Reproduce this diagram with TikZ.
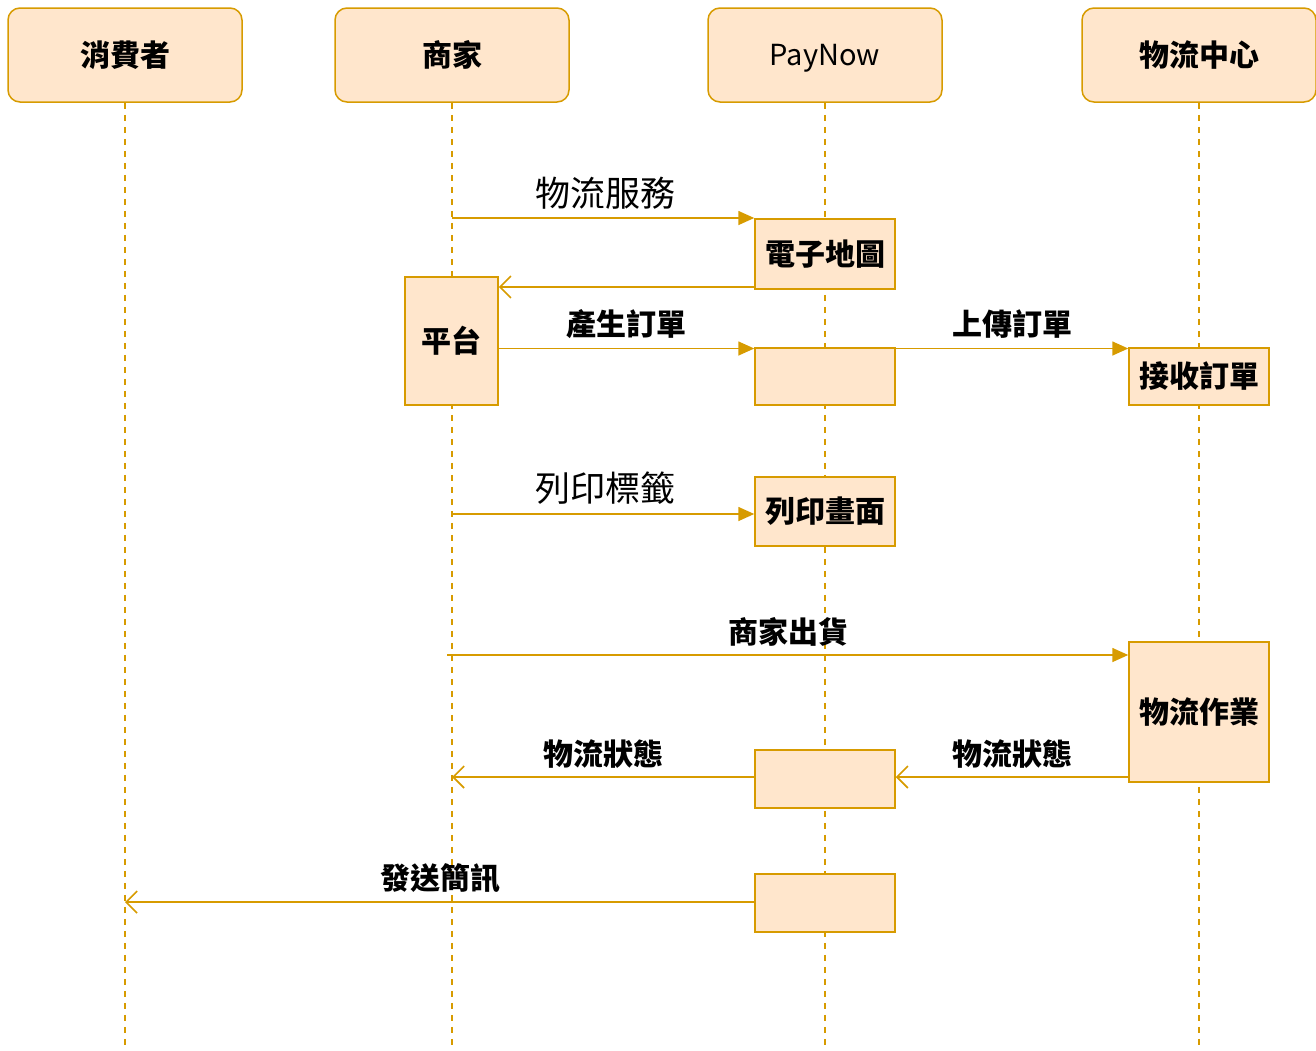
\documentclass[tikz,border=0pt]{standalone}
\usepackage{fontspec}
\setmainfont{Noto Sans CJK TC}
\usetikzlibrary{arrows.meta}
\definecolor{fillc}{HTML}{FFE6CC}
\definecolor{linec}{HTML}{D79B00}
\begin{document}
\begin{tikzpicture}[x=1pt,y=-1pt,
 head/.style={draw=linec, fill=fillc, line width=1.5pt, rounded corners=12pt, minimum width=234pt, minimum height=94pt, inner sep=0pt, font=\fontsize{30}{33}\selectfont\bfseries},
 act/.style={draw=linec, fill=fillc, line width=1.5pt, inner sep=0pt, font=\fontsize{30}{33}\selectfont\bfseries},
 life/.style={draw=linec, line width=1.2pt, dash pattern=on 6pt off 6pt},
 msg/.style={draw=linec, line width=1.6pt, -{Triangle[length=16pt,width=14pt]}},
 ret/.style={draw=linec, line width=1.6pt, -{Straight Barb[length=11pt,width=22pt]}},
 lb/.style={font=\fontsize{30}{33}\selectfont\bfseries, inner sep=0pt},
 lbr/.style={font=\fontsize{35}{38}\selectfont, inner sep=0pt}
]
\useasboundingbox (0,0) rectangle (1316,1050);
\coordinate (bot) at (0,1050);
% headers
\node[head] (h1) at (125,55) {消費者};
\node[head] (h2) at (452,55) {商家};
\node[head, font=\fontsize{29}{32}\selectfont] (h3) at (825,55) {\raisebox{-10.5pt}[0pt][0pt]{PayNow}};
\node[head] (h4) at (1199,55) {物流中心};
% lifelines
\draw[life] (h1.south) -- (h1.south |- bot);
\draw[life] (h2.south) -- (h2.south |- bot);
\draw[life] (h3.south) -- (h3.south |- bot);
\draw[life] (h4.south) -- (h4.south |- bot);
% activation boxes
\node[act, minimum width=140pt, minimum height=70pt] (a1) at (825,254) {電子地圖};
\node[act, minimum width=93pt, minimum height=128pt] (a2) at (451.5,341) {平台};
\node[act, minimum width=140pt, minimum height=57pt] (a3) at (825,376.5) {};
\node[act, minimum width=140pt, minimum height=57pt] (a4) at (1199,376.5) {接收訂單};
\node[act, minimum width=140pt, minimum height=69pt] (a5) at (825,511.5) {列印畫面};
\node[act, minimum width=140pt, minimum height=140pt] (a6) at (1199,712) {物流作業};
\node[act, minimum width=140pt, minimum height=58pt] (a7) at (825,779) {};
\node[act, minimum width=140pt, minimum height=58pt] (a8) at (825,903) {};
% coordinates
\coordinate (s1) at (452,218);
\coordinate (r1) at (0,287);
\coordinate (s3) at (0,348.5);
\coordinate (s5) at (452,514);
\coordinate (s6) at (447,655);
\coordinate (r7) at (0,777);
\coordinate (r8) at (0,902);
% messages
\draw[msg] (s1) -- (a1.west |- s1);
\draw[ret] (a1.west |- r1) -- (a2.east |- r1);
\draw[msg] (a2.east |- s3) -- (a3.west |- s3);
\draw[msg] (a3.east |- s3) -- (a4.west |- s3);
\draw[msg] (s5) -- (a5.west |- s5);
\draw[msg] (s6) -- (a6.west |- s6);
\draw[ret] (a6.west |- r7) -- (a7.east |- r7);
\draw[ret] (a7.west |- r7) -- (h2.south |- r7);
\draw[ret] (a8.west |- r8) -- (h1.south |- r8);
% labels
\node[lbr] (l1) at (605,193) {物流服務};
\node[lb] (l2) at (626,324) {產生訂單};
\node[lb] (l3) at (1012,324) {上傳訂單};
\node[lbr] (l4) at (605,488) {列印標籤};
\node[lb] (l5) at (788,632) {商家出貨};
\node[lb] (l6) at (603,754) {物流狀態};
\node[lb] (l7) at (1012,754) {物流狀態};
\node[lb] (l8) at (440,878) {發送簡訊};
\end{tikzpicture}
\end{document}
